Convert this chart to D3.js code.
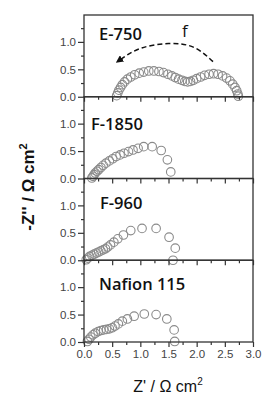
<!DOCTYPE html>
<html>
<head>
<meta charset="utf-8">
<script src="https://cdn.jsdelivr.net/npm/d3@7"></script>
<style>
  body { margin: 0; background: #fff; }
  svg { display: block; }
</style>
</head>
<body>
<svg width="265" height="396" viewBox="0 0 265 396"></svg>
<script>
// data: Z' (x) and -Z'' (y) pairs for each membrane
var panelNames = ["E-750", "F-1850", "F-960", "Nafion 115"];

var e750 = [
  [0.58,0.02],[0.60,0.07],[0.62,0.12],[0.65,0.17],[0.68,0.22],[0.72,0.27],[0.77,0.32],
  [0.83,0.36],[0.90,0.40],[0.98,0.43],[1.06,0.45],[1.15,0.47],[1.24,0.47],[1.33,0.46],
  [1.41,0.44],[1.49,0.41],[1.56,0.38],[1.62,0.35],[1.68,0.32],[1.74,0.30],[1.79,0.28],
  [1.84,0.27],[1.89,0.28],[1.94,0.30],[2.00,0.33],[2.07,0.36],[2.14,0.39],[2.22,0.41],
  [2.30,0.42],[2.38,0.41],[2.46,0.38],[2.53,0.34],[2.59,0.29],[2.64,0.23],[2.68,0.17],
  [2.71,0.11],[2.73,0.05],[2.74,0.01]
];

var f1850 = [
  [0.14,0.01],[0.16,0.04],[0.18,0.07],[0.20,0.10],[0.23,0.13],[0.26,0.16],[0.30,0.20],
  [0.34,0.24],[0.39,0.28],[0.45,0.32],[0.51,0.36],[0.57,0.40],[0.64,0.43],[0.71,0.46],
  [0.79,0.49],[0.87,0.52],[0.96,0.55],[1.06,0.58],[1.21,0.58],[1.37,0.51],[1.48,0.34],
  [1.54,0.12]
];

var f960 = [
  [0.04,0.01],[0.07,0.04],[0.10,0.07],[0.14,0.09],[0.18,0.11],[0.22,0.13],[0.26,0.15],
  [0.30,0.17],[0.34,0.19],[0.38,0.21],[0.42,0.24],[0.47,0.28],[0.53,0.33],[0.60,0.39],
  [0.70,0.46],[0.83,0.54],[1.03,0.58],[1.28,0.58],[1.51,0.42],[1.62,0.22],[1.58,0.00]
];

var nafion = [
  [0.06,0.01],[0.09,0.05],[0.12,0.09],[0.16,0.13],[0.20,0.16],[0.25,0.19],[0.30,0.21],
  [0.35,0.22],[0.40,0.23],[0.45,0.24],[0.50,0.26],[0.55,0.29],[0.61,0.33],[0.68,0.38],
  [0.77,0.42],[0.89,0.47],[1.07,0.51],[1.28,0.50],[1.47,0.42],[1.60,0.22],[1.61,0.01]
];

var series = [e750, f1850, f960, nafion];

// dashed arrow in the top panel (frequency direction)
var arrowPts = [[2.29,0.64],[1.95,0.90],[1.50,0.97],[1.00,0.88],[0.62,0.66]];

var xTicks = [0, 0.5, 1.0, 1.5, 2.0, 2.5, 3.0];
var xMinor = [0.25, 0.75, 1.25, 1.75, 2.25, 2.75];
var yTicks = [0, 0.5, 1.0];
var yMinor = [0.25, 0.75, 1.25];

var canvas = d3.select("svg");

var left = 84, right = 253, top0 = 15, panelH = 81.75;

var x = d3.scaleLinear().domain([0, 3]).range([left, right]);

var tickFont = "Liberation Sans, Arial, sans-serif";
var labelFont = "Open Sans, sans-serif";

// label placement inside each panel (x, baseline offset from panel top)
var labelX = [99, 91, 100, 99];
var labelDy = [25, 33, 30, 30];

// arrowhead marker
canvas.append("defs").append("marker")
  .attr("id", "head")
  .attr("viewBox", "0 0 10 10")
  .attr("refX", 5).attr("refY", 5)
  .attr("markerWidth", 5).attr("markerHeight", 5)
  .attr("orient", "auto-start-reverse")
  .append("path")
    .attr("d", "M0,0 L10,5 L0,10 z")
    .style("fill", "#111");

series.forEach(function(data, i) {
  var pTop = top0 + i * panelH,
      pBot = pTop + panelH;

  var y = d3.scaleLinear().domain([0, 1.49]).range([pBot, pTop]);

  var g = canvas.append("g");

  // points
  g.selectAll("circle")
    .data(data)
    .enter()
      .append("circle")
      .attr("cx", function(d) { return x(d[0]); })
      .attr("cy", function(d) { return y(d[1]); })
      .attr("r", 4.3)
      .style("fill", "none")
      .style("stroke", "#8a8a8a")
      .style("stroke-width", 1.1);

  // frame
  g.append("rect")
    .attr("x", left).attr("y", pTop)
    .attr("width", right - left).attr("height", panelH)
    .style("fill", "none")
    .style("stroke", "#333")
    .style("stroke-width", 1.3);

  // y axis
  var yAxis = d3.axisLeft(y).tickValues(yTicks).tickSize(6).tickPadding(2)
    .tickFormat(d3.format(".1f"));
  var ya = g.append("g").attr("transform", "translate(" + left + ",0)").call(yAxis);
  ya.select(".domain").remove();
  ya.selectAll("line").style("stroke", "#333").style("stroke-width", 1.2);
  ya.selectAll("text").style("font-family", tickFont).style("font-size", "11.5px").style("fill", "#444");

  var yAxisMinor = d3.axisLeft(y).tickValues(yMinor).tickSize(3).tickFormat("");
  var ym = g.append("g").attr("transform", "translate(" + left + ",0)").call(yAxisMinor);
  ym.select(".domain").remove();
  ym.selectAll("line").style("stroke", "#333").style("stroke-width", 1.2);

  // x axis ticks (out, below each panel)
  var xAxis = d3.axisBottom(x).tickValues(xTicks).tickSize(5).tickPadding(3)
    .tickFormat(i === 3 ? d3.format(".1f") : "");
  var xa = g.append("g").attr("transform", "translate(0," + pBot + ")").call(xAxis);
  xa.select(".domain").remove();
  xa.selectAll("line").style("stroke", "#333").style("stroke-width", 1.2);
  xa.selectAll("text").style("font-family", tickFont).style("font-size", "11.5px").style("fill", "#444");

  var xAxisMinor = d3.axisBottom(x).tickValues(xMinor).tickSize(3).tickFormat("");
  var xm = g.append("g").attr("transform", "translate(0," + pBot + ")").call(xAxisMinor);
  xm.select(".domain").remove();
  xm.selectAll("line").style("stroke", "#333").style("stroke-width", 1.2);

  // panel label
  g.append("text")
    .attr("x", labelX[i])
    .attr("y", pTop + labelDy[i])
    .text(panelNames[i])
    .style("font-family", labelFont)
    .style("font-weight", "600")
    .style("font-size", "16.5px")
    .style("fill", "#111");

  if (i === 0) {
    var line = d3.line()
      .x(function(d) { return x(d[0]); })
      .y(function(d) { return y(d[1]); })
      .curve(d3.curveNatural);
    g.append("path")
      .attr("d", line(arrowPts))
      .attr("marker-end", "url(#head)")
      .style("fill", "none")
      .style("stroke", "#111")
      .style("stroke-width", 1.5)
      .style("stroke-dasharray", "5,3");
    g.append("text")
      .attr("x", 182).attr("y", pTop + 22)
      .text("f")
      .style("font-family", labelFont)
      .style("font-size", "17px")
      .style("fill", "#111");
  }
});

// axis titles
var xt = canvas.append("text")
  .attr("x", 168).attr("y", 392)
  .attr("text-anchor", "middle")
  .style("font-family", tickFont)
  .style("font-size", "16px")
  .style("fill", "#111");
xt.append("tspan").text("Z' / \u03A9 cm");
xt.append("tspan").attr("dy", -7).style("font-size", "10px").text("2");

var yt = canvas.append("text")
  .attr("transform", "translate(34,187) rotate(-90)")
  .attr("text-anchor", "middle")
  .style("font-family", tickFont)
  .style("font-weight", "bold")
  .style("font-size", "17px")
  .style("fill", "#111");
yt.append("tspan").text("-Z'' / \u03A9 cm");
yt.append("tspan").attr("dy", -7).style("font-size", "11px").text("2");
</script>
</body>
</html>
